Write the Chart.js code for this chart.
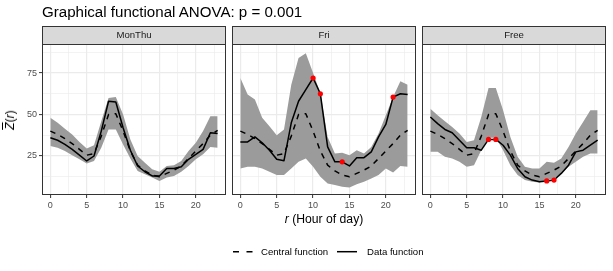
<!DOCTYPE html>
<html>
<head>
<meta charset="utf-8">
<script src="https://cdn.jsdelivr.net/npm/chart.js@4.4.0/dist/chart.umd.min.js"></script>
<style>
  body { margin: 0; background: #fff; font-family: "Liberation Sans", Arial, sans-serif; }
  #wrap { position: relative; width: 613px; height: 271px; overflow: hidden; }
  #wrap canvas { position: absolute; left: 0; top: 0; }
  .title { position: absolute; left: 42px; top: 4px; font-size: 15.1px; line-height: 15.5px; white-space: nowrap; color: #000; }
  .xtitle { position: absolute; left: 324px; top: 213px; transform: translateX(-50%); font-size: 12.2px; line-height: 12px; white-space: nowrap; }
  .ytitle { position: absolute; left: 10px; top: 120px; transform: translate(-50%, -50%) rotate(-90deg); font-size: 12.2px; line-height: 14px; white-space: nowrap; }
  .ov { font-style: italic; text-decoration: overline; }
  .leg { position: absolute; top: 246px; font-size: 9.6px; line-height: 11px; white-space: nowrap; color: #000; }
  .key { position: absolute; top: 246px; width: 20px; height: 11px; }
</style>
</head>
<body>
<div id="wrap">
  <canvas id="c0" width="613" height="271"></canvas>
  <canvas id="c1" width="613" height="271"></canvas>
  <canvas id="c2" width="613" height="271"></canvas>
  <div class="title">Graphical functional ANOVA: p = 0.001</div>
  <div class="ytitle"><span class="ov">Z</span>(<i>r</i>)</div>
  <div class="xtitle"><i>r</i> (Hour of day)</div>
  <svg class="key" style="left:233px" viewBox="0 0 20 11"><line x1="0" y1="5.7" x2="20" y2="5.7" stroke="#000" stroke-width="1.5" stroke-dasharray="6 7.5"/></svg>
  <div class="leg" style="left:261px">Central function</div>
  <svg class="key" style="left:337px" viewBox="0 0 20 11"><line x1="0" y1="5.7" x2="20" y2="5.7" stroke="#000" stroke-width="1.5"/></svg>
  <div class="leg" style="left:367px">Data function</div>
</div>
<script>
// Data
const hours = [0, 1, 2, 3, 4, 5, 6, 7, 8, 9, 10, 11, 12, 13, 14, 15, 16, 17, 18, 19, 20, 21, 22, 23];
const xMajor = [0, 5, 10, 15, 20];
const xMinor = [2.5, 7.5, 12.5, 17.5, 22.5];
const yMajor = [25, 50, 75];
const yMinor = [12.5, 37.5, 62.5, 87.5];
const panelNames = ['MonThu', 'Fri', 'Free'];

const central = [40, 38, 35.5, 32.5, 29, 25.5, 26.5, 37, 50, 50.5, 40, 28, 19.5, 16, 13.5, 12.5, 14.5, 16.5, 19, 23.5, 28, 32.5, 37.5, 40.5];

const monThuData  = [36, 34.5, 32, 29, 25.5, 22, 25, 40, 58, 57.5, 42, 28.5, 19, 15.5, 13, 13, 17.5, 17.5, 18.5, 23, 26, 29, 39, 38.5];
const monThuUpper = [48, 45, 41.5, 38, 33.5, 29.5, 31.5, 46, 60, 60.5, 50, 35, 25, 21, 17, 15.5, 19, 19.5, 22, 28, 33, 40, 49, 49];
const monThuLower = [31, 30, 28, 25.5, 23, 20.5, 22, 30, 41, 41, 32, 23.5, 16, 14, 12, 10, 12, 13, 15.5, 19, 23, 26, 30.5, 30];
const monThuOut   = [];

const friData  = [33.5, 33.5, 36.5, 33, 28.5, 23, 22.2, 45, 58, 65, 72, 62.5, 30.5, 21.5, 21.5, 19, 24, 24, 27.5, 36.5, 44, 60.5, 62.5, 62];
const friUpper = [72, 62, 59, 48, 43, 37.5, 41, 68, 84, 87, 75, 63, 36.5, 26.5, 27, 25.5, 28.5, 26.5, 30.5, 38.5, 49.5, 60.5, 70, 68];
const friLower = [17.5, 18.5, 18.5, 17.5, 15.5, 13.5, 13.5, 17.5, 21.5, 23.5, 18.5, 12.5, 8.5, 7.5, 6.5, 6, 8, 9.5, 11.5, 13.5, 17.5, 15, 19, 18.5];
const friOut   = [10, 11, 14, 21];

const freeData  = [48.5, 44.5, 41, 39, 34.5, 30, 30, 28.5, 35, 35, 31.5, 25.5, 17.5, 12.5, 10.5, 9.5, 10, 10.5, 14.5, 19.5, 27.5, 28.5, 31.5, 34.5];
const freeUpper = [53.5, 49.5, 46, 42.5, 38.5, 33.5, 34.5, 48.5, 66, 66, 52.5, 36.5, 24.5, 18.5, 17.5, 17.5, 21.5, 21, 23.5, 30.5, 38.5, 45.5, 52.5, 52.5];
const freeLower = [27.5, 27.5, 24.5, 23.5, 21.5, 18.5, 19.5, 28.5, 36, 36, 28.5, 19.5, 13.5, 10.5, 9.5, 9, 10.5, 11.5, 14.5, 18.5, 21.5, 24.5, 26.5, 26.5];
const freeOut   = [8, 9, 16, 17];

const panels = [
    { name: panelNames[0], data: monThuData, upper: monThuUpper, lower: monThuLower, out: monThuOut },
    { name: panelNames[1], data: friData, upper: friUpper, lower: friLower, out: friOut },
    { name: panelNames[2], data: freeData, upper: freeUpper, lower: freeLower, out: freeOut }
];

// Layout
const panelLefts = [42, 232, 422];
const panelWidth = 184;
const panelTop = 44;
const panelBottom = 195;
const stripTop = 26;
const fontFamily = '"Liberation Sans", Arial, sans-serif';

function xy(values) {
    return hours.map((h, i) => ({ x: h, y: values[i] }));
}

// Draws the panel border and the facet strip
const panelFrame = {
    id: 'panelFrame',
    afterDraw(chart, args, opts) {
        const { ctx, chartArea: a } = chart;
        const w = a.right - a.left;
        ctx.save();
        ctx.fillStyle = '#D9D9D9';
        ctx.fillRect(a.left, stripTop, w, a.top - stripTop);
        ctx.strokeStyle = '#333333';
        ctx.lineWidth = 1;
        ctx.strokeRect(a.left + 0.5, stripTop + 0.5, w - 1, a.top - stripTop);
        ctx.strokeRect(a.left + 0.5, a.top + 0.5, w - 1, a.bottom - a.top - 1);
        ctx.fillStyle = '#1A1A1A';
        ctx.font = '9.6px ' + fontFamily;
        ctx.textAlign = 'center';
        ctx.textBaseline = 'middle';
        ctx.fillText(opts.label, a.left + w / 2, (stripTop + a.top) / 2 + 0.5);
        ctx.restore();
    }
};

function gridOpts(major) {
    return {
        color: ctx => '#EBEBEB',
        lineWidth: ctx => (ctx.tick && major.includes(ctx.tick.value)) ? 1.2 : 0.6,
        tickColor: ctx => (ctx.tick && major.includes(ctx.tick.value)) ? '#333333' : 'rgba(0,0,0,0)',
        tickLength: 3,
        tickWidth: 1
    };
}

panels.forEach((p, i) => {
    const left = panelLefts[i];
    const yWidth = i === 0 ? 22 : 0;
    const ctx = document.getElementById('c' + i).getContext('2d');

    new Chart(ctx, {
        type: 'line',
        data: {
            datasets: [
                {
                    data: p.out.map(h => ({ x: hours[h], y: p.data[h] })),
                    showLine: false,
                    pointRadius: 2.6,
                    pointBackgroundColor: '#FF0000',
                    pointBorderWidth: 0
                },
                {
                    data: xy(p.data),
                    borderColor: '#000000',
                    borderWidth: 1.5,
                    borderJoinStyle: 'round',
                    pointRadius: 0,
                    fill: false
                },
                {
                    data: xy(central),
                    borderColor: '#000000',
                    borderWidth: 1.5,
                    borderDash: [5.5, 5.5],
                    borderJoinStyle: 'round',
                    pointRadius: 0,
                    fill: false
                },
                {
                    data: xy(p.upper),
                    borderWidth: 0,
                    borderColor: 'rgba(0,0,0,0)',
                    backgroundColor: '#9B9B9B',
                    pointRadius: 0,
                    fill: '+1'
                },
                {
                    data: xy(p.lower),
                    borderWidth: 0,
                    borderColor: 'rgba(0,0,0,0)',
                    pointRadius: 0,
                    fill: false
                }
            ]
        },
        options: {
            responsive: false,
            animation: false,
            events: [],
            devicePixelRatio: 1,
            layout: {
                padding: {
                    left: left - yWidth,
                    right: 613 - (left + panelWidth),
                    top: panelTop,
                    bottom: 271 - panelBottom - 20
                }
            },
            plugins: {
                legend: { display: false },
                tooltip: { enabled: false },
                panelFrame: { label: p.name }
            },
            scales: {
                x: {
                    type: 'linear',
                    min: -1.15,
                    max: 24.15,
                    border: { display: false },
                    grid: gridOpts(xMajor),
                    afterBuildTicks: scale => {
                        scale.ticks = [...xMajor, ...xMinor].sort((a, b) => a - b).map(v => ({ value: v }));
                    },
                    afterFit: scale => { scale.height = 20; },
                    ticks: {
                        autoSkip: false,
                        maxRotation: 0,
                        padding: 2,
                        color: '#4D4D4D',
                        font: { family: fontFamily, size: 9 },
                        callback: v => xMajor.includes(v) ? String(v) : ''
                    }
                },
                y: {
                    type: 'linear',
                    min: 1.5,
                    max: 92.5,
                    border: { display: false },
                    grid: Object.assign(gridOpts(yMajor), { drawTicks: i === 0 }),
                    afterBuildTicks: scale => {
                        scale.ticks = [...yMajor, ...yMinor].sort((a, b) => a - b).map(v => ({ value: v }));
                    },
                    afterFit: scale => { scale.width = yWidth; },
                    ticks: {
                        display: i === 0,
                        autoSkip: false,
                        padding: 2,
                        color: '#4D4D4D',
                        font: { family: fontFamily, size: 9 },
                        callback: v => yMajor.includes(v) ? String(v) : ''
                    }
                }
            }
        },
        plugins: [panelFrame]
    });
});
</script>
</body>
</html>
